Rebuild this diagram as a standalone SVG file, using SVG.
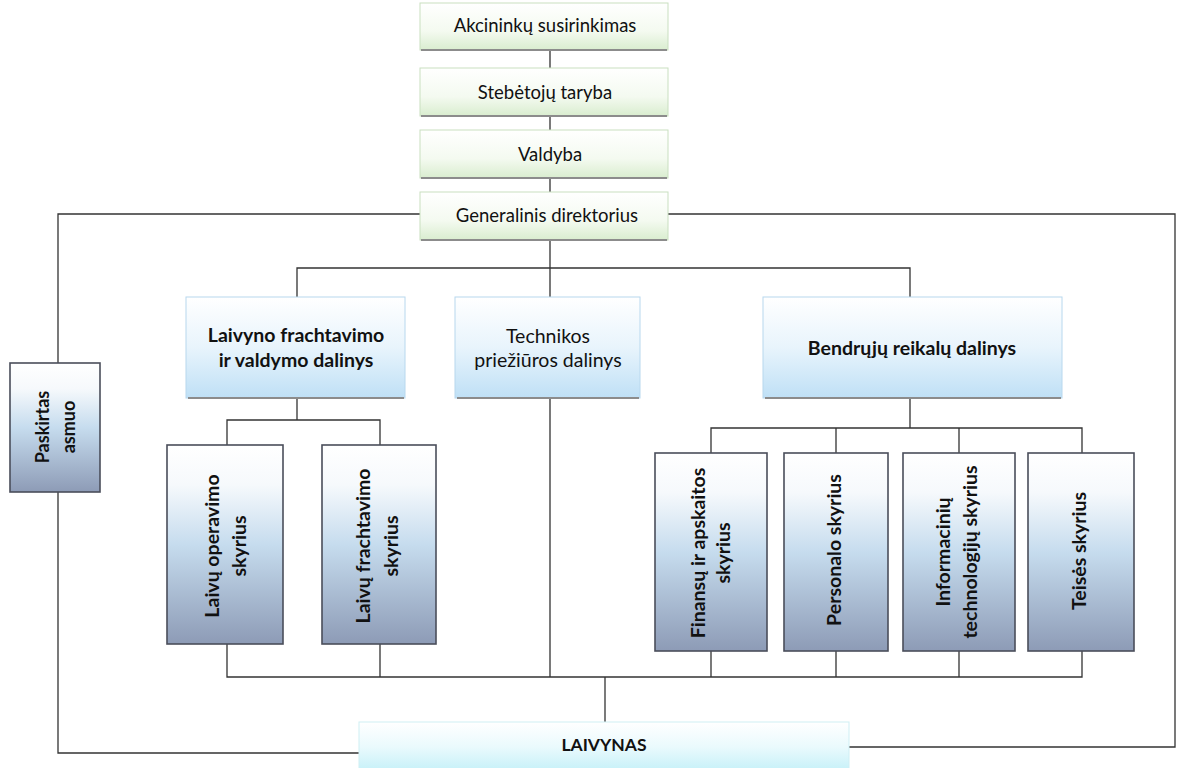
<svg xmlns="http://www.w3.org/2000/svg" width="1179" height="768" viewBox="0 0 1179 768">
<defs>
<linearGradient id="gGreen" x1="0" y1="0" x2="0" y2="1">
<stop offset="0" stop-color="#ffffff"/><stop offset="0.6" stop-color="#f4faf0"/><stop offset="1" stop-color="#d9edcf"/>
</linearGradient>
<linearGradient id="gBlue" x1="0" y1="0" x2="0" y2="1">
<stop offset="0" stop-color="#ffffff"/><stop offset="0.5" stop-color="#e8f4fc"/><stop offset="1" stop-color="#bfe0f6"/>
</linearGradient>
<linearGradient id="gSteel" x1="0" y1="0" x2="0" y2="1">
<stop offset="0" stop-color="#ffffff"/><stop offset="0.2" stop-color="#f6f9fc"/><stop offset="0.5" stop-color="#c6dcee"/><stop offset="1" stop-color="#8d9bb6"/>
</linearGradient>
<linearGradient id="gCyan" x1="0" y1="0" x2="0" y2="1">
<stop offset="0" stop-color="#ffffff"/><stop offset="0.5" stop-color="#eafafd"/><stop offset="1" stop-color="#c4f0f8"/>
</linearGradient>
<style>
.ln{fill:none;stroke:#333;stroke-width:1.3}
.bg{fill:url(#gGreen);stroke:#c9dfc0;stroke-width:1}
.bb{fill:url(#gBlue);stroke:#b8d8ee;stroke-width:1}
.bs{fill:url(#gSteel);stroke:#4a4e5a;stroke-width:1.6}
.bc{fill:url(#gCyan);stroke:#cfeff4;stroke-width:1}
.sh{fill:none;stroke:#8c8c8c;stroke-width:2}
.t{font-family:Lato,"Liberation Sans",sans-serif;fill:#111;text-anchor:middle}
.n{font-size:18.5px}
.m{font-size:19.5px}
.b{font-size:19.5px;font-weight:bold}
.v{font-size:19.5px;font-weight:bold}
</style>
</defs>
<g id="connectors">
<path class="ln" d="M550 50V68M550 116V130M550 178V192"/>
<path class="ln" d="M420 214H58V753H359"/>
<path class="ln" d="M668 214H1175V747H849"/>
<path class="ln" d="M550 240V268M297 297V268H910V297M550 268V297"/>
<path class="ln" d="M297 398V420M227 445V420H380V445"/>
<path class="ln" d="M910 398V428M711 453V428H1082V453M836 428V453M959 428V453"/>
<path class="ln" d="M550 398V677M227 644V677H1082V651M380 644V677M711 651V677M836 651V677M959 651V677"/>
<path class="ln" d="M605 677V722"/>
</g>
<g id="n-akcininku">
<rect class="bg" x="420" y="3" width="248" height="47"/>
<path class="sh" d="M421 50H667"/>
<text class="t n" x="545" y="32">Akcininkų susirinkimas</text>
</g>
<g id="n-stebetoju">
<rect class="bg" x="420" y="68" width="248" height="48"/>
<path class="sh" d="M421 116H667"/>
<text class="t n" x="545" y="99">Stebėtojų taryba</text>
</g>
<g id="n-valdyba">
<rect class="bg" x="420" y="130" width="248" height="48"/>
<path class="sh" d="M421 178H667"/>
<text class="t n" x="550" y="161">Valdyba</text>
</g>
<g id="n-generalinis">
<rect class="bg" x="420" y="192" width="248" height="48"/>
<path class="sh" d="M421 240H667"/>
<text class="t n" x="547" y="222">Generalinis direktorius</text>
</g>
<g id="n-laivyno">
<rect class="bb" x="186" y="297" width="219" height="101"/>
<path class="sh" d="M188 398H404"/>
<text class="t b" x="296" y="342">Laivyno frachtavimo</text>
<text class="t b" x="296" y="367">ir valdymo dalinys</text>
</g>
<g id="n-technikos">
<rect class="bb" x="455" y="297" width="185" height="101"/>
<path class="sh" d="M457 398H639"/>
<text class="t m" x="548" y="343">Technikos</text>
<text class="t m" x="548" y="367">priežiūros dalinys</text>
</g>
<g id="n-bendruju">
<rect class="bb" x="763" y="297" width="299" height="101"/>
<path class="sh" d="M765 398H1061"/>
<text class="t b" x="912" y="355">Bendrųjų reikalų dalinys</text>
</g>
<g id="n-paskirtas">
<rect class="bs" x="10" y="363" width="90" height="129"/>
<text class="t" style="font-size:18px;font-weight:bold" transform="translate(55 427) rotate(-90)"><tspan x="0" y="-6">Paskirtas</tspan><tspan x="0" y="20">asmuo</tspan></text>
</g>
<g id="n-operavimo">
<rect class="bs" x="167" y="445" width="116" height="199"/>
<text class="t v" transform="translate(225 546) rotate(-90)"><tspan x="0" y="-6">Laivų operavimo</tspan><tspan x="0" y="21">skyrius</tspan></text>
</g>
<g id="n-frachtavimo">
<rect class="bs" x="322" y="445" width="114" height="199"/>
<text class="t v" transform="translate(379 546) rotate(-90)"><tspan x="0" y="-9">Laivų frachtavimo</tspan><tspan x="0" y="19">skyrius</tspan></text>
</g>
<g id="n-finansu">
<rect class="bs" x="655" y="453" width="112" height="198"/>
<text class="t v" transform="translate(711 553) rotate(-90)"><tspan x="0" y="-6">Finansų ir apskaitos</tspan><tspan x="0" y="19">skyrius</tspan></text>
</g>
<g id="n-personalo">
<rect class="bs" x="784" y="453" width="104" height="198"/>
<text class="t v" transform="translate(835 550) rotate(-90)"><tspan x="0" y="6">Personalo skyrius</tspan></text>
</g>
<g id="n-informaciniu">
<rect class="bs" x="903" y="453" width="112" height="198"/>
<text class="t v" transform="translate(957 552) rotate(-90)"><tspan x="0" y="-7">Informacinių</tspan><tspan x="0" y="20">technologijų skyrius</tspan></text>
</g>
<g id="n-teises">
<rect class="bs" x="1028" y="453" width="106" height="198"/>
<text class="t v" transform="translate(1080 551) rotate(-90)"><tspan x="0" y="6">Teisės skyrius</tspan></text>
</g>
<g id="n-laivynas">
<rect class="bc" x="359" y="722" width="490" height="50"/>
<text class="t" style="font-size:17.5px;font-weight:bold" x="604" y="751">LAIVYNAS</text>
</g>
</svg>
